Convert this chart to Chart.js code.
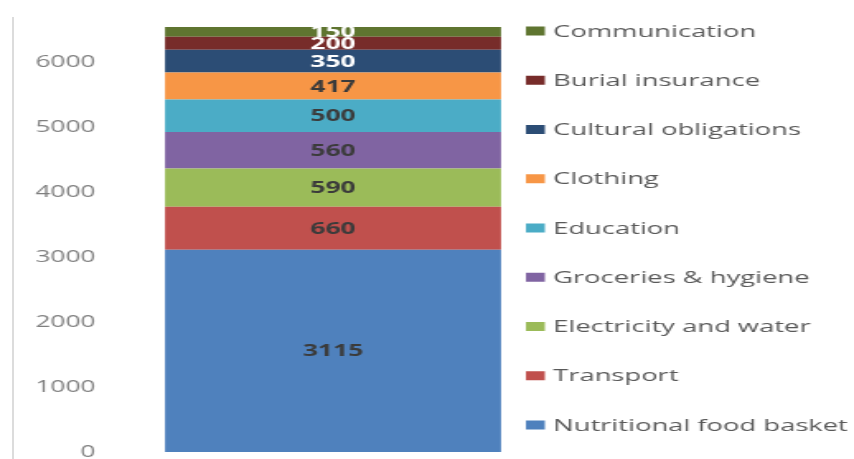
<!DOCTYPE html>
<html>
<head>
<meta charset="utf-8">
<script src="https://cdn.jsdelivr.net/npm/chart.js@4.4.1/dist/chart.umd.min.js"></script>
<style>
  html, body { margin: 0; padding: 0; background: #fff; }
  body { width: 854px; height: 459px; position: relative; overflow: hidden; }
  #edge { position: absolute; left: 12px; top: 17px; width: 2px; height: 442px; background: #dcdcdc; }
  /* the reference is stretched sideways, so the chart is drawn narrow and widened */
  #wrap { position: absolute; left: 0; top: 0; width: 518px; height: 459px;
          transform: scaleX(1.6486); transform-origin: 0 0; }
</style>
</head>
<body>
<div id="edge"></div>
<div id="wrap"><canvas id="chart"></canvas></div>
<script>
const categories = [''];
const seriesNames = ['Nutritional food basket', 'Transport', 'Electricity and water',
    'Groceries & hygiene', 'Education', 'Clothing', 'Cultural obligations',
    'Burial insurance', 'Communication'];
const seriesValues = [3115, 660, 590, 560, 500, 417, 350, 200, 150];
const seriesColors = ['#4F81BD', '#C0504D', '#9BBB59', '#8064A2', '#4BACC6',
    '#F79646', '#2C4D75', '#772C2A', '#5F7530'];
const labelColors = ['#3b3b3b', '#3b3b3b', '#3b3b3b', '#3b3b3b', '#3b3b3b',
    '#3b3b3b', '#ffffff', '#ffffff', '#ffffff'];
const yTicks = [0, 1000, 2000, 3000, 4000, 5000, 6000];

const total = seriesValues.reduce((a, b) => a + b, 0);

// valeurs au centre de chaque segment
const segmentLabels = {
    id: 'segmentLabels',
    afterDatasetsDraw(chart) {
        const ctx = chart.ctx;
        ctx.save();
        ctx.font = 'bold 16px "Open Sans"';
        ctx.textAlign = 'center';
        ctx.textBaseline = 'middle';
        chart.data.datasets.forEach((ds, i) => {
            const bar = chart.getDatasetMeta(i).data[0];
            if (!bar) return;
            ctx.fillStyle = labelColors[i];
            ctx.fillText(String(ds.data[0]), bar.x, (bar.y + bar.base) / 2 + 1);
        });
        ctx.restore();
    }
};

// legende a droite, dans l'ordre inverse
const sideLegend = {
    id: 'sideLegend',
    afterDraw(chart) {
        const ctx = chart.ctx;
        const items = chart.data.datasets.map((ds, i) => ({ text: ds.label, color: ds.backgroundColor })).reverse();
        ctx.save();
        ctx.font = '16.6px "Open Sans"';
        ctx.textBaseline = 'middle';
        items.forEach((it, k) => {
            const y = 31 + k * 49.25;
            ctx.fillStyle = it.color;
            ctx.fillRect(319, y - 4.5, 11.5, 9);
            ctx.fillStyle = '#595959';
            ctx.fillText(it.text, 335.5, y + 1);
        });
        ctx.restore();
    }
};

new Chart(document.getElementById('chart'), {
    type: 'bar',
    data: {
        labels: categories,
        datasets: seriesNames.map((name, i) => ({
            label: name,
            data: [seriesValues[i]],
            backgroundColor: seriesColors[i],
            borderWidth: 0,
            categoryPercentage: 1,
            barPercentage: 0.728
        }))
    },
    options: {
        responsive: true,
        maintainAspectRatio: false,
        animation: false,
        layout: { padding: { top: 27, bottom: 7, left: 0, right: 176 } },
        plugins: { legend: { display: false }, tooltip: { enabled: false } },
        scales: {
            x: { stacked: true, display: false },
            y: {
                stacked: true,
                min: 0,
                max: total,
                border: { display: false },
                grid: { display: false, drawTicks: false },
                afterBuildTicks(scale) { scale.ticks = yTicks.map(v => ({ value: v })); },
                afterFit(scale) { scale.width = 62; scale.paddingTop = 0; scale.paddingBottom = 0; },
                ticks: {
                    padding: 4,
                    color: '#7f7f7f',
                    font: { family: 'Open Sans', size: 16 },
                    callback: v => String(v)
                }
            }
        }
    },
    plugins: [segmentLabels, sideLegend]
});
</script>
</body>
</html>
